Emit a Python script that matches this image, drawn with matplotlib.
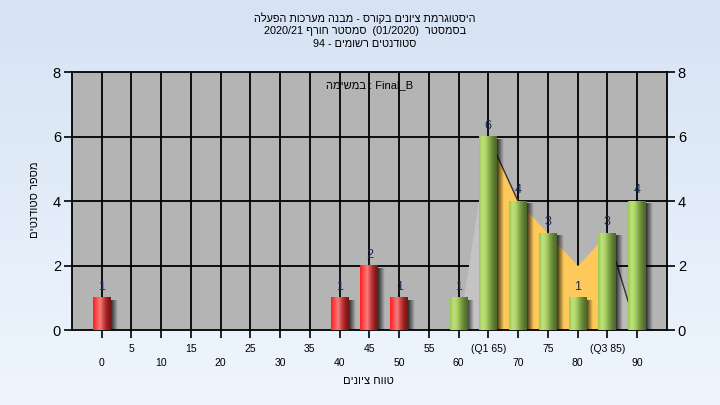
import matplotlib
matplotlib.use('Agg')
import matplotlib.pyplot as plt
import numpy as np

# grade histogram data
grades = [0, 40, 45, 50, 60, 65, 70, 75, 80, 85, 90]
counts = [1, 1, 2, 1, 1, 6, 4, 3, 1, 3, 4]
passing = [False, False, False, False, True, True, True, True, True, True, True]

# smoothed curve behind the bars
curve_x = [60, 65, 70, 75, 80, 85, 90]
curve_y = [0, 6, 4, 3, 2, 3, 0]
q1, q3 = 65, 85

major_ticks = [0, 10, 20, 30, 40, 50, 60, 70, 80, 90]
minor_ticks = [5, 15, 25, 35, 45, 55, 65, 75, 85]
minor_labels = ['5', '15', '25', '35', '45', '55', '(Q1 65)', '75', '(Q3 85)']

title_lines = ['היסטוגרמת ציונים בקורס - מבנה מערכות הפעלה',
               'בסמסטר  (01/2020)  סמסטר חורף 2020/21',
               'סטודנטים רשומים - 94']
task_text = 'במשימה : Final_B'
ylabel = 'מספר סטודנטים'
xlabel = 'טווח ציונים'


def visual(s):
    # matplotlib draws left to right, so reorder hebrew runs (simple bidi, LTR base)
    types = []
    for ch in s:
        if '\u0590' <= ch <= '\u05ff':
            types.append('R')
        elif ch.isdigit():
            types.append('EN')
        elif ch.isalpha():
            types.append('L')
        elif ch in '/,.:':
            types.append('CS')
        else:
            types.append('N')
    n = len(s)
    for i in range(1, n - 1):
        if types[i] == 'CS' and types[i - 1] == 'EN' and types[i + 1] == 'EN':
            types[i] = 'EN'
    types = ['N' if t == 'CS' else t for t in types]
    last = 'L'
    for i, t in enumerate(types):
        if t in ('L', 'R'):
            last = t
        elif t == 'EN' and last == 'L':
            types[i] = 'L'
    i = 0
    while i < n:
        if types[i] == 'N':
            j = i
            while j < n and types[j] == 'N':
                j += 1
            before = 'L' if i == 0 else ('R' if types[i - 1] in ('R', 'EN') else 'L')
            after = 'L' if j == n else ('R' if types[j] in ('R', 'EN') else 'L')
            d = before if before == after else 'L'
            for k in range(i, j):
                types[k] = d
            i = j
        else:
            i += 1
    levels = [{'L': 0, 'R': 1, 'EN': 2}[t] for t in types]
    mirror = {'(': ')', ')': '('}
    chars = [mirror.get(c, c) if lv % 2 == 1 else c for c, lv in zip(s, levels)]
    idx = list(range(n))
    for lev in range(max(levels), 0, -1):
        i = 0
        while i < n:
            if levels[idx[i]] >= lev:
                j = i
                while j < n and levels[idx[j]] >= lev:
                    j += 1
                idx[i:j] = idx[i:j][::-1]
                i = j
            else:
                i += 1
    return ''.join(chars[k] for k in idx)


plt.rcParams['font.family'] = ['Liberation Sans', 'DejaVu Sans']

fig = plt.figure(figsize=(7.2, 4.05), dpi=100)

# background gradient
bg = fig.add_axes([0, 0, 1, 1], zorder=-10)
grad = np.linspace(0, 1, 256).reshape(-1, 1)
top_c = np.array([0.84, 0.89, 0.955])
bot_c = np.array([0.935, 0.962, 0.995])
bg_img = top_c + (bot_c - top_c) * grad[:, :, None]
bg.imshow(bg_img, aspect='auto', extent=(0, 1, 0, 1), origin='upper')
bg.axis('off')

ax = fig.add_axes([0.1, 0.185, 0.826, 0.637])
ax.set_facecolor('#b4b4b4')
xmin, xmax, ymin, ymax = -5, 95, 0, 8

# grid
for gx in range(0, 95, 5):
    ax.axvline(gx, color='black', lw=1.3, zorder=0.5)
for gy in [2, 4, 6]:
    ax.axhline(gy, color='black', lw=1.3, zorder=0.5)

# curve fill
cx = np.array(curve_x, dtype=float)
cy = np.array(curve_y, dtype=float)
inside = (cx >= q1) & (cx <= q3)
ax.fill_between(cx, 0, cy, where=inside, color='#fec95a', lw=0, zorder=1)
ax.fill_between(cx[:2], 0, cy[:2], color='#c3c3c3', lw=0, zorder=1)
ax.fill_between(cx[-2:], 0, cy[-2:], color='#bcbcbc', lw=0, zorder=1)
ax.plot(cx[1:3], cy[1:3], color='#333333', lw=1, zorder=1.2)
ax.plot(cx[-2:], cy[-2:], color='#333333', lw=1, zorder=1.2)

# bars with gradient and shadow
w = 3.0
red_grad = np.array([[1.0, 0.12, 0.12], [1.0, 0.3, 0.3], [0.95, 0.5, 0.5],
                     [0.8, 0.25, 0.25], [0.6, 0.12, 0.12], [0.45, 0.08, 0.08]])
green_grad = np.array([[0.6, 0.8, 0.3], [0.75, 0.88, 0.5], [0.68, 0.82, 0.4],
                       [0.5, 0.65, 0.28], [0.38, 0.5, 0.2], [0.3, 0.4, 0.17]])
n = 40
t = np.linspace(0, 1, n)
for x, v, ok in zip(grades, counts, passing):
    stops = green_grad if ok else red_grad
    sx = np.linspace(0, 1, len(stops))
    img = np.stack([np.interp(t, sx, stops[:, k]) for k in range(3)], axis=-1)[None, :, :]
    # shadow
    sh = np.zeros((1, n, 4))
    sh[..., 3] = np.linspace(0.75, 0, n)
    ax.imshow(sh, aspect='auto', extent=(x + w / 2, x + w / 2 + 1.1, -0.1, v - 0.08),
              zorder=2, interpolation='bilinear')
    ax.imshow(img, aspect='auto', extent=(x - w / 2, x + w / 2, 0, v),
              zorder=3, interpolation='bilinear')
    ax.text(x, v + 0.15, str(v), ha='center', va='bottom', fontsize=9,
            color='#1c2c50', zorder=4)

ax.set_xlim(xmin, xmax)
ax.set_ylim(ymin, ymax)

ax.set_yticks([0, 2, 4, 6, 8])
ax.tick_params(axis='y', labelsize=10.5, length=6, width=1.2, right=True,
               labelright=True, pad=2)
ax.set_xticks(major_ticks)
ax.set_xticklabels([str(m) for m in major_ticks])
ax.set_xticks(minor_ticks, minor=True)
ax.set_xticklabels(minor_labels, minor=True)
ax.tick_params(axis='x', which='major', labelsize=7.5, length=6, width=1.2, pad=14)
ax.tick_params(axis='x', which='minor', labelsize=7.5, length=6, width=1.2, pad=4)
for sp in ax.spines.values():
    sp.set_linewidth(1.3)

ax.text(45, 7.6, visual(task_text), ha='center', va='center', fontsize=8, zorder=5)

fig.text(0.507, 0.955, visual(title_lines[0]), ha='center', va='center', fontsize=7.8)
fig.text(0.507, 0.923, visual(title_lines[1]), ha='center', va='center', fontsize=7.8)
fig.text(0.507, 0.891, visual(title_lines[2]), ha='center', va='center', fontsize=7.8)
fig.text(0.048, 0.506, visual(ylabel), ha='center', va='center', rotation=90, fontsize=8)
fig.text(0.512, 0.06, visual(xlabel), ha='center', va='center', fontsize=8)

fig.savefig('out.png', dpi=100)
